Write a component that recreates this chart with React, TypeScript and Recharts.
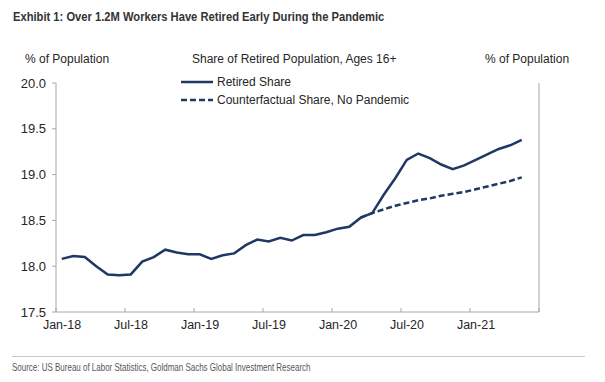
import { LineChart, Line, XAxis, YAxis } from "recharts";

const NAVY = "#1f3864";
const AXIS = "#a6a6a6";
const TEXT = "#262626";
const FONT = "'Liberation Sans', Arial, sans-serif";

// monthly observations, Jan-18 .. May-21
const RETIRED = [
  18.08, 18.11, 18.1, 18.0, 17.91, 17.9, 17.91, 18.05, 18.1, 18.18, 18.15, 18.13,
  18.13, 18.08, 18.12, 18.14, 18.23, 18.29, 18.27, 18.31, 18.28, 18.34, 18.34, 18.37,
  18.41, 18.43, 18.53, 18.58, 18.78, 18.96, 19.16, 19.23, 19.18, 19.11, 19.06, 19.1,
  19.16, 19.22, 19.28, 19.32, 19.38,
];
// counterfactual starts at Mar-20 (index 26)
const CF_START = 26;
const COUNTERFACTUAL = [
  18.53, 18.58, 18.62, 18.66, 18.69, 18.72, 18.74, 18.77, 18.79, 18.81, 18.84, 18.87,
  18.9, 18.93, 18.97,
];

const X_TICKS = [0, 6, 12, 18, 24, 30, 36, 42];
const X_LABELS = ["Jan-18", "Jul-18", "Jan-19", "Jul-19", "Jan-20", "Jul-20", "Jan-21", ""];
const Y_TICKS = [17.5, 18, 18.5, 19, 19.5, 20];

const SERIES_RETIRED = "Retired Share";
const SERIES_CF = "Counterfactual Share, No Pandemic";

const data = RETIRED.map((v, i) => ({
  t: i + 0.5,
  retired: v,
  cf: i >= CF_START ? COUNTERFACTUAL[i - CF_START] : null,
}));

function XTick(props: any) {
  const { x, y, payload } = props;
  const idx = X_TICKS.indexOf(payload.value);
  return (
    <g>
      <line x1={x} x2={x} y1={y - 4} y2={y} stroke={AXIS} />
      <text x={x + 6} y={y + 17} textAnchor="middle" fill={TEXT} fontSize={12.5} fontFamily={FONT}>
        {X_LABELS[idx]}
      </text>
    </g>
  );
}

const txt = (extra: any) => ({ position: "absolute" as const, whiteSpace: "nowrap" as const, lineHeight: 1, ...extra });

export default function App() {
  return (
    <div style={{ position: "absolute", left: 0, top: 0, width: 605, height: 382, background: "#fff", fontFamily: FONT, color: TEXT }}>
      <div
        style={txt({
          left: 13, top: 10, fontWeight: "bold", fontSize: 13, color: "#333",
          transform: "scaleX(0.86)", transformOrigin: "left center",
        })}
      >
        Exhibit 1: Over 1.2M Workers Have Retired Early During the Pandemic
      </div>

      <div style={txt({ left: 25, top: 53, fontSize: 12 })}>% of Population</div>
      <div style={txt({ left: 485, top: 53, fontSize: 12 })}>% of Population</div>
      <div style={txt({ left: 192, top: 53, fontSize: 12 })}>Share of Retired Population, Ages 16+</div>

      {/* legend */}
      <svg style={{ position: "absolute", left: 180, top: 74 }} width={36} height={34}>
        <line x1={1} x2={33} y1={8} y2={8} stroke={NAVY} strokeWidth={2.5} />
        <line x1={1} x2={33} y1={26} y2={26} stroke={NAVY} strokeWidth={2.5} strokeDasharray="6 3" />
      </svg>
      <div style={txt({ left: 217, top: 76, fontSize: 12 })}>{SERIES_RETIRED}</div>
      <div style={txt({ left: 217, top: 94, fontSize: 12 })}>{SERIES_CF}</div>

      <div style={{ position: "absolute", left: 0, top: 0 }}>
        <LineChart width={605} height={382} data={data} margin={{ top: 83, right: 0, bottom: 0, left: 0 }}>
          <XAxis
            dataKey="t"
            type="number"
            domain={[0, 42]}
            ticks={X_TICKS}
            interval={0}
            height={70}
            tickSize={0}
            tickMargin={0}
            tickLine={false}
            stroke={AXIS}
            tick={<XTick />}
          />
          <YAxis
            yAxisId="left"
            domain={[17.5, 20]}
            ticks={Y_TICKS}
            width={56}
            tickSize={4}
            tickMargin={6}
            stroke={AXIS}
            tick={{ fill: TEXT, fontSize: 13, fontFamily: FONT }}
            tickFormatter={(v: number) => v.toFixed(1)}
          />
          <YAxis
            yAxisId="right"
            orientation="right"
            domain={[17.5, 20]}
            ticks={Y_TICKS}
            width={66}
            tickSize={4}
            tickMargin={4}
            stroke={AXIS}
            tick={{ fill: TEXT, fontSize: 13, fontFamily: FONT, textAnchor: "start" }}
            tickFormatter={(v: number) => v.toFixed(1)}
          />
          <Line
            yAxisId="left"
            dataKey="cf"
            name={SERIES_CF}
            stroke={NAVY}
            strokeWidth={2.5}
            strokeDasharray="6 3"
            dot={false}
            isAnimationActive={false}
            connectNulls={false}
          />
          <Line
            yAxisId="left"
            dataKey="retired"
            name={SERIES_RETIRED}
            stroke={NAVY}
            strokeWidth={2.5}
            dot={false}
            isAnimationActive={false}
          />
        </LineChart>
      </div>

      <div style={{ position: "absolute", left: 12, top: 356, width: 573, height: 1, background: "#c8c8c8" }} />
      <div
        style={txt({
          left: 12, top: 362, fontSize: 10.5, color: "#555",
          transform: "scaleX(0.76)", transformOrigin: "left center",
        })}
      >
        Source: US Bureau of Labor Statistics, Goldman Sachs Global Investment Research
      </div>
    </div>
  );
}
